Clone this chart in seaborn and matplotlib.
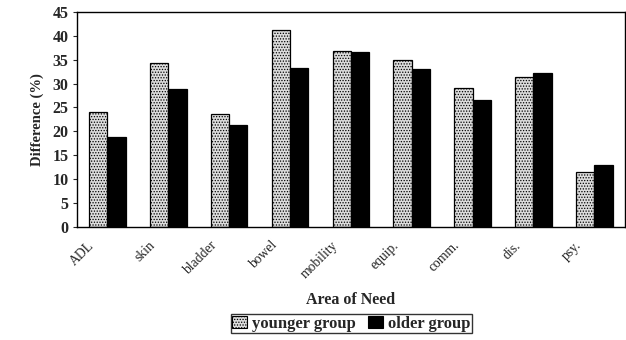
import matplotlib
matplotlib.use("Agg")
import matplotlib.pyplot as plt
import matplotlib.transforms as mtrans
import seaborn as sns
import pandas as pd
import numpy as np
from matplotlib.patches import Patch

categories = ["ADL", "skin", "bladder", "bowel", "mobility", "equip.", "comm.", "dis.", "psy."]
younger = [24.1, 34.4, 23.7, 41.2, 36.9, 34.9, 29.0, 31.3, 11.5]
older = [18.9, 28.8, 21.3, 33.3, 36.5, 33.1, 26.6, 32.2, 12.9]
series = ["younger group", "older group"]
yticks = [0, 5, 10, 15, 20, 25, 30, 35, 40, 45]

df = pd.DataFrame({
    "cat": categories * 2,
    "val": younger + older,
    "grp": [series[0]] * len(categories) + [series[1]] * len(categories),
})

sns.set_style("white")
plt.rcParams["font.family"] = ["Liberation Serif", "DejaVu Serif"]
plt.rcParams["hatch.color"] = "#6a6a6a"
plt.rcParams["hatch.linewidth"] = 0.6

fig = plt.figure(figsize=(6.26, 3.4), dpi=100)
ax = fig.add_axes([0.123, 0.333, 0.875, 0.632])

young_fill = "#dcdcdc"
sns.barplot(data=df, x="cat", y="val", hue="grp", order=categories,
            hue_order=series, palette=[young_fill, "#000000"], width=0.6,
            gap=0, edgecolor="black", linewidth=0.9, saturation=1,
            legend=False, ax=ax)

n = len(categories)
for i, p in enumerate(ax.patches[:n]):
    p.set_hatch("......")

ax.set_xlim(-0.5, n - 0.5)
ax.set_ylim(0, 45)
ax.set_yticks(yticks)
ax.set_yticklabels([str(t) for t in yticks], fontsize=11.5, fontweight="bold")
ax.set_xticks(range(n))
ax.set_xticklabels(categories, rotation=45, ha="right", va="center",
                   rotation_mode="anchor", fontsize=9.8)
ax.tick_params(axis="x", which="major", length=0, pad=12)
off = mtrans.ScaledTranslation(-15 / 100, 0, fig.dpi_scale_trans)
for lab in ax.get_xticklabels():
    lab.set_transform(lab.get_transform() + off)
ax.set_xticks(np.arange(-0.5, n, 1.0), minor=True)
ax.tick_params(axis="x", which="minor", length=3, width=0.8, direction="out", color="#555555")
ax.tick_params(axis="y", length=3, width=0.8, direction="out", left=True, pad=3)

for s in ax.spines.values():
    s.set_color("black")
    s.set_linewidth(1.0)

ax.set_ylabel("Difference (%)", fontsize=10.5, fontweight="bold", labelpad=6)
ax.set_xlabel("Area of Need", fontsize=11.5, fontweight="bold", labelpad=8)

handles = [Patch(facecolor=young_fill, edgecolor="black", hatch="......", linewidth=0.8),
           Patch(facecolor="black", edgecolor="black", linewidth=0.8)]
leg = fig.legend(handles, series, loc="center", bbox_to_anchor=(0.561, 0.048), ncol=2,
                 frameon=True, fancybox=False, edgecolor="black",
                 prop={"size": 12, "weight": "bold"},
                 handlelength=0.9, handleheight=0.8, handletextpad=0.3, columnspacing=0.7,
                 borderpad=0.1, borderaxespad=0)
leg.get_frame().set_linewidth(1.0)

fig.savefig("out.png", dpi=100)
